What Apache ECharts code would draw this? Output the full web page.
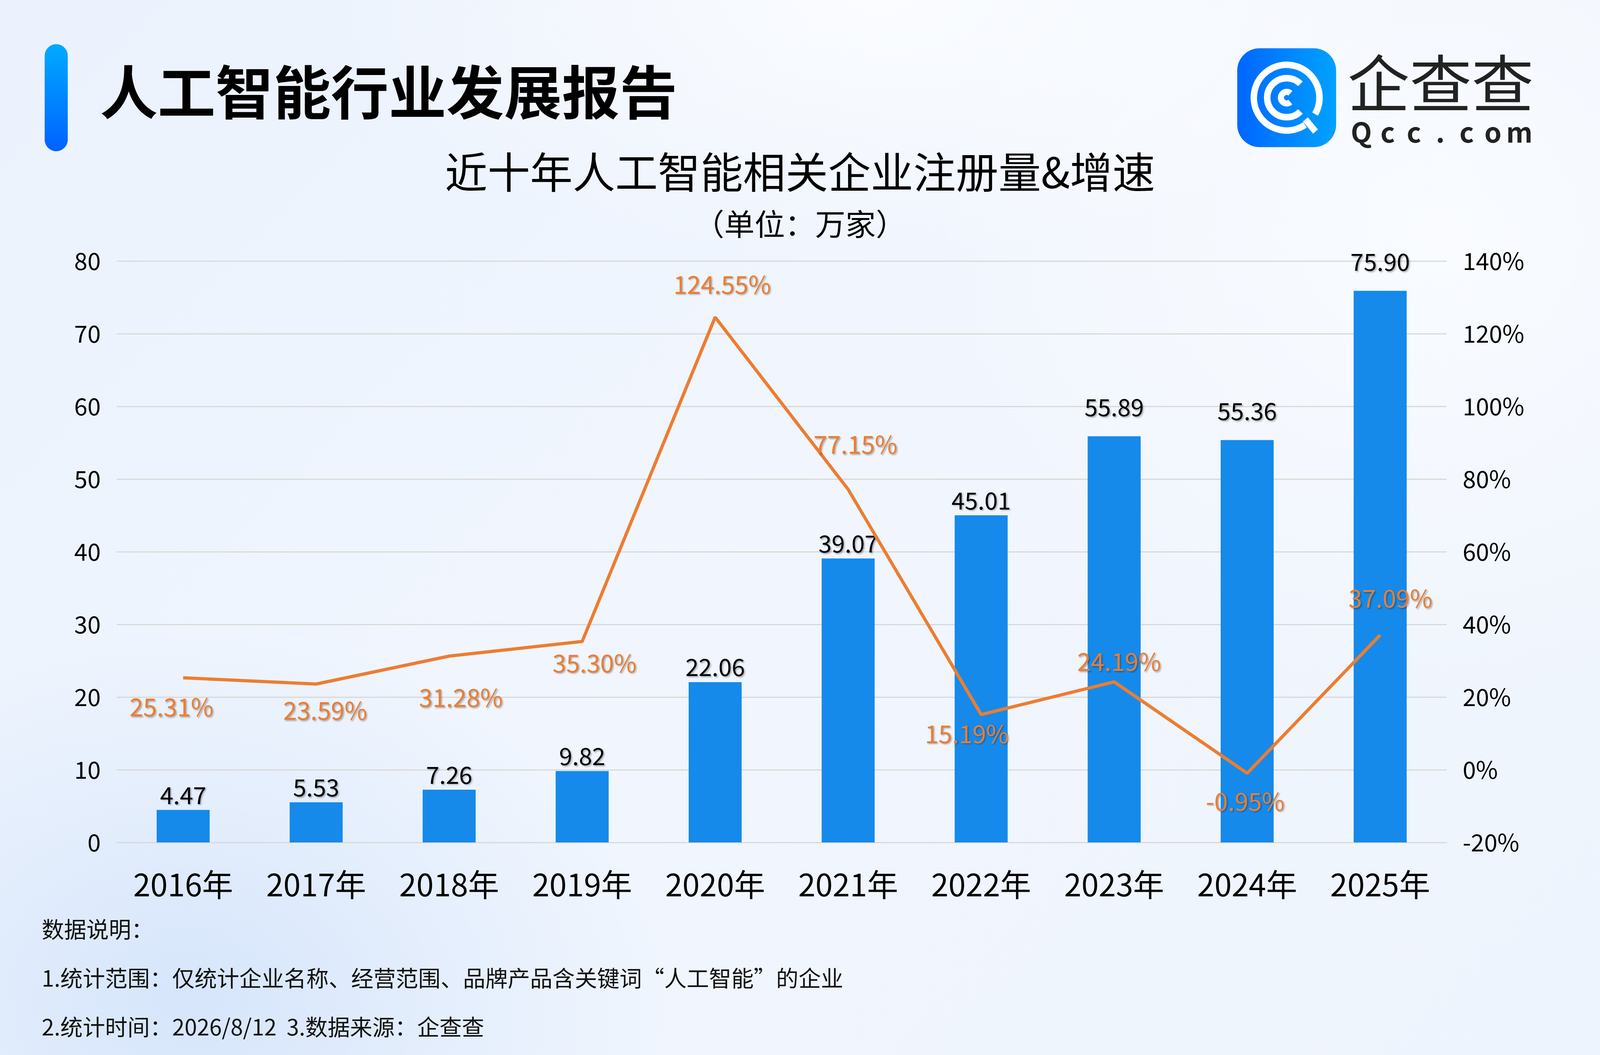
<!DOCTYPE html>
<html>
<head>
<meta charset="utf-8">
<title>人工智能行业发展报告</title>
<script src="https://cdn.jsdelivr.net/npm/echarts@6/dist/echarts.min.js"></script>
<style>
  html, body {
    margin: 0;
    padding: 0;
    width: 100%;
    height: 100%;
    overflow: hidden;
  }
  body {
    background:
      radial-gradient(ellipse 30% 35% at 12% 95%, rgba(205, 224, 250, 0.75), rgba(205, 224, 250, 0) 100%),
      radial-gradient(ellipse 35% 25% at 55% 0%, rgba(255, 255, 255, 0.7), rgba(255, 255, 255, 0) 100%),
      radial-gradient(ellipse 32% 45% at 90% 22%, rgba(250, 252, 255, 0.9), rgba(250, 252, 255, 0) 100%),
      linear-gradient(135deg, #ebf2fd 0%, #f1f6fe 50%, #eef4fd 100%);
  }
  #chart {
    width: 100vw;
    height: 100vh;
  }
</style>
</head>
<body>
<div id="chart"></div>
<script>
// Data
const years = ["2016年", "2017年", "2018年", "2019年", "2020年", "2021年", "2022年", "2023年", "2024年", "2025年"];
const registrations = [4.47, 5.53, 7.26, 9.82, 22.06, 39.07, 45.01, 55.89, 55.36, 75.90];
const growthRates = [25.31, 23.59, 31.28, 35.30, 124.55, 77.15, 15.19, 24.19, -0.95, 37.09];

// Axis ranges
const leftAxis = { min: 0, max: 80, interval: 10 };
const rightAxis = { min: -20, max: 140, interval: 20 };

// Label placement (pixel nudges, as in the original)
const rateLabelOffsets = [[-35, 75], [27, 68], [35, 106], [37, 55], [21, -84], [22, -115], [-43, 49], [15, -52], [-6, 72], [31, -94]];
const barLabelLift = [0, 0, 0, 0, 0, 0, 0, -36, -36, -36];

const FONT = '"Noto Sans CJK SC", "Noto Sans", sans-serif';
const BAR_COLOR = "#158AEA";
const LINE_COLOR = "#ED7D31";
const GRID_COLOR = "#D9D9D9";

// layout measured on a 4800x2700 picture, mapped onto the real viewport
const sx = window.innerWidth / 4800;
const sy = window.innerHeight / 2700;
const sf = Math.sqrt(sx * sy);
const X = (v) => v * sx;
const Y = (v) => v * sy;
const F = (v) => v * sf;

const shadow = {
  textShadowColor: "rgba(0, 0, 0, 0.3)",
  textShadowBlur: F(4),
  textShadowOffsetX: F(3),
  textShadowOffsetY: F(3),
};

const chart = echarts.init(document.getElementById("chart"), null, { renderer: "canvas" });

const barData = registrations.map((v, i) => ({
  value: v,
  label: { offset: [0, Y(barLabelLift[i])] },
}));

const lineData = growthRates.map((v, i) => ({
  value: v,
  label: { offset: [X(rateLabelOffsets[i][0]), Y(rateLabelOffsets[i][1])] },
}));

// Header, logo and footnotes
function text(x, y, str, size, opts) {
  return {
    type: "text",
    x: X(x),
    y: Y(y),
    z: 10,
    style: Object.assign(
      {
        text: str,
        fontSize: F(size),
        fontFamily: FONT,
        fill: "#111",
        align: "left",
        verticalAlign: "middle",
      },
      opts || {}
    ),
  };
}

const deg = Math.PI / 180;
// logo centre; the tile and rings keep their square shape
const lx = X(3860), ly = Y(250);
const ringStyle = { stroke: "#fff", lineWidth: F(18), fill: null, lineCap: "butt" };
const tile = F(274);

const qccLetters = ["Q", "c", "c", ".", "c", "o", "m"];

const graphics = [
  // accent bar
  {
    type: "rect",
    shape: { x: X(134), y: Y(113), width: F(64), height: Y(274), r: F(32) },
    style: {
      fill: {
        type: "linear", x: 0, y: 0, x2: 0, y2: 1,
        colorStops: [{ offset: 0, color: "#00AAFF" }, { offset: 1, color: "#0062FF" }],
      },
    },
  },
  text(300, 236, "人工智能行业发展报告", 160, { fontWeight: "bold", fill: "#000" }),
  text(2400, 441, "近十年人工智能相关企业注册量&增速", 118, { align: "center", fill: "#000" }),
  text(2400, 574, "（单位：万家）", 84, { align: "center", fill: "#000" }),
  // logo tile
  {
    type: "rect",
    shape: { x: lx - tile / 2, y: ly - tile / 2, width: tile, height: tile, r: F(62) },
    style: {
      fill: {
        type: "linear", x: 0, y: 0, x2: 1, y2: 0,
        colorStops: [{ offset: 0, color: "#0066FF" }, { offset: 1, color: "#00A2FF" }],
      },
    },
  },
  { type: "arc", z: 11, shape: { cx: lx, cy: ly, r: F(91), startAngle: 56 * deg, endAngle: 390 * deg, clockwise: true }, style: ringStyle },
  { type: "arc", z: 11, shape: { cx: lx, cy: ly, r: F(54), startAngle: 45 * deg, endAngle: 315 * deg, clockwise: true }, style: ringStyle },
  { type: "arc", z: 11, shape: { cx: lx, cy: ly, r: F(16), startAngle: 50 * deg, endAngle: 310 * deg, clockwise: true }, style: Object.assign({}, ringStyle, { lineWidth: F(17) }) },
  { type: "line", z: 11, shape: { x1: lx + F(52), y1: ly + F(60), x2: lx + F(80), y2: ly + F(94) }, style: { stroke: "#fff", lineWidth: F(18) } },
  text(4322, 214, "企查查", 172, { align: "center", fill: "#222" }),
].concat(
  qccLetters.map((ch, i) => text(4084 + i * 79, 338, ch, 76, { align: "center", fill: "#222", fontWeight: "bold" })),
  [
    text(125, 2378, "数据说明：", 62),
    text(125, 2503, "1.统计范围：仅统计企业名称、经营范围、品牌产品含关键词“人工智能”的企业", 62),
    text(125, 2628, "2.统计时间：2026/8/12  3.数据来源：企查查", 62),
  ]
);

const option = {
  backgroundColor: "transparent",
  textStyle: { fontFamily: FONT },
  animation: false,
  grid: {
    left: X(350),
    right: X(460),
    top: Y(668),
    bottom: Y(544),
    containLabel: false,
  },
  xAxis: {
    type: "category",
    data: years,
    axisLine: { show: true, lineStyle: { color: GRID_COLOR, width: F(3) } },
    axisTick: { show: false },
    axisLabel: {
      color: "#000",
      fontSize: F(86),
      margin: Y(68),
      fontFamily: FONT,
    },
  },
  yAxis: [
    {
      type: "value",
      min: leftAxis.min,
      max: leftAxis.max,
      interval: leftAxis.interval,
      axisLine: { show: false },
      axisTick: { show: false },
      axisLabel: { color: "#000", fontSize: F(66), margin: X(48), fontFamily: FONT },
      splitLine: { show: true, lineStyle: { color: GRID_COLOR, width: F(3) } },
    },
    {
      type: "value",
      min: rightAxis.min,
      max: rightAxis.max,
      interval: rightAxis.interval,
      axisLine: { show: false },
      axisTick: { show: false },
      axisLabel: { color: "#000", fontSize: F(66), margin: X(48), fontFamily: FONT, formatter: "{value}%" },
      splitLine: { show: false },
    },
  ],
  series: [
    {
      name: "注册量",
      type: "bar",
      data: barData,
      barWidth: X(159),
      itemStyle: { color: BAR_COLOR },
      label: Object.assign(
        {
          show: true,
          position: "top",
          distance: Y(8),
          color: "#000",
          fontSize: F(66),
          fontFamily: FONT,
          formatter: (d) => d.value.toFixed(2),
        },
        shadow
      ),
      z: 2,
    },
    {
      name: "增速",
      type: "line",
      yAxisIndex: 1,
      data: lineData,
      symbol: "circle",
      symbolSize: 1,
      showSymbol: true,
      lineStyle: { color: LINE_COLOR, width: F(9) },
      itemStyle: { color: LINE_COLOR },
      label: Object.assign(
        {
          show: true,
          position: "inside",
          color: LINE_COLOR,
          fontSize: F(68),
          fontFamily: FONT,
          formatter: (d) => d.value.toFixed(2) + "%",
        },
        shadow
      ),
      z: 3,
    },
  ],
  graphic: graphics,
};

chart.setOption(option);

window.addEventListener("resize", () => {
  chart.resize();
});
</script>
</body>
</html>
